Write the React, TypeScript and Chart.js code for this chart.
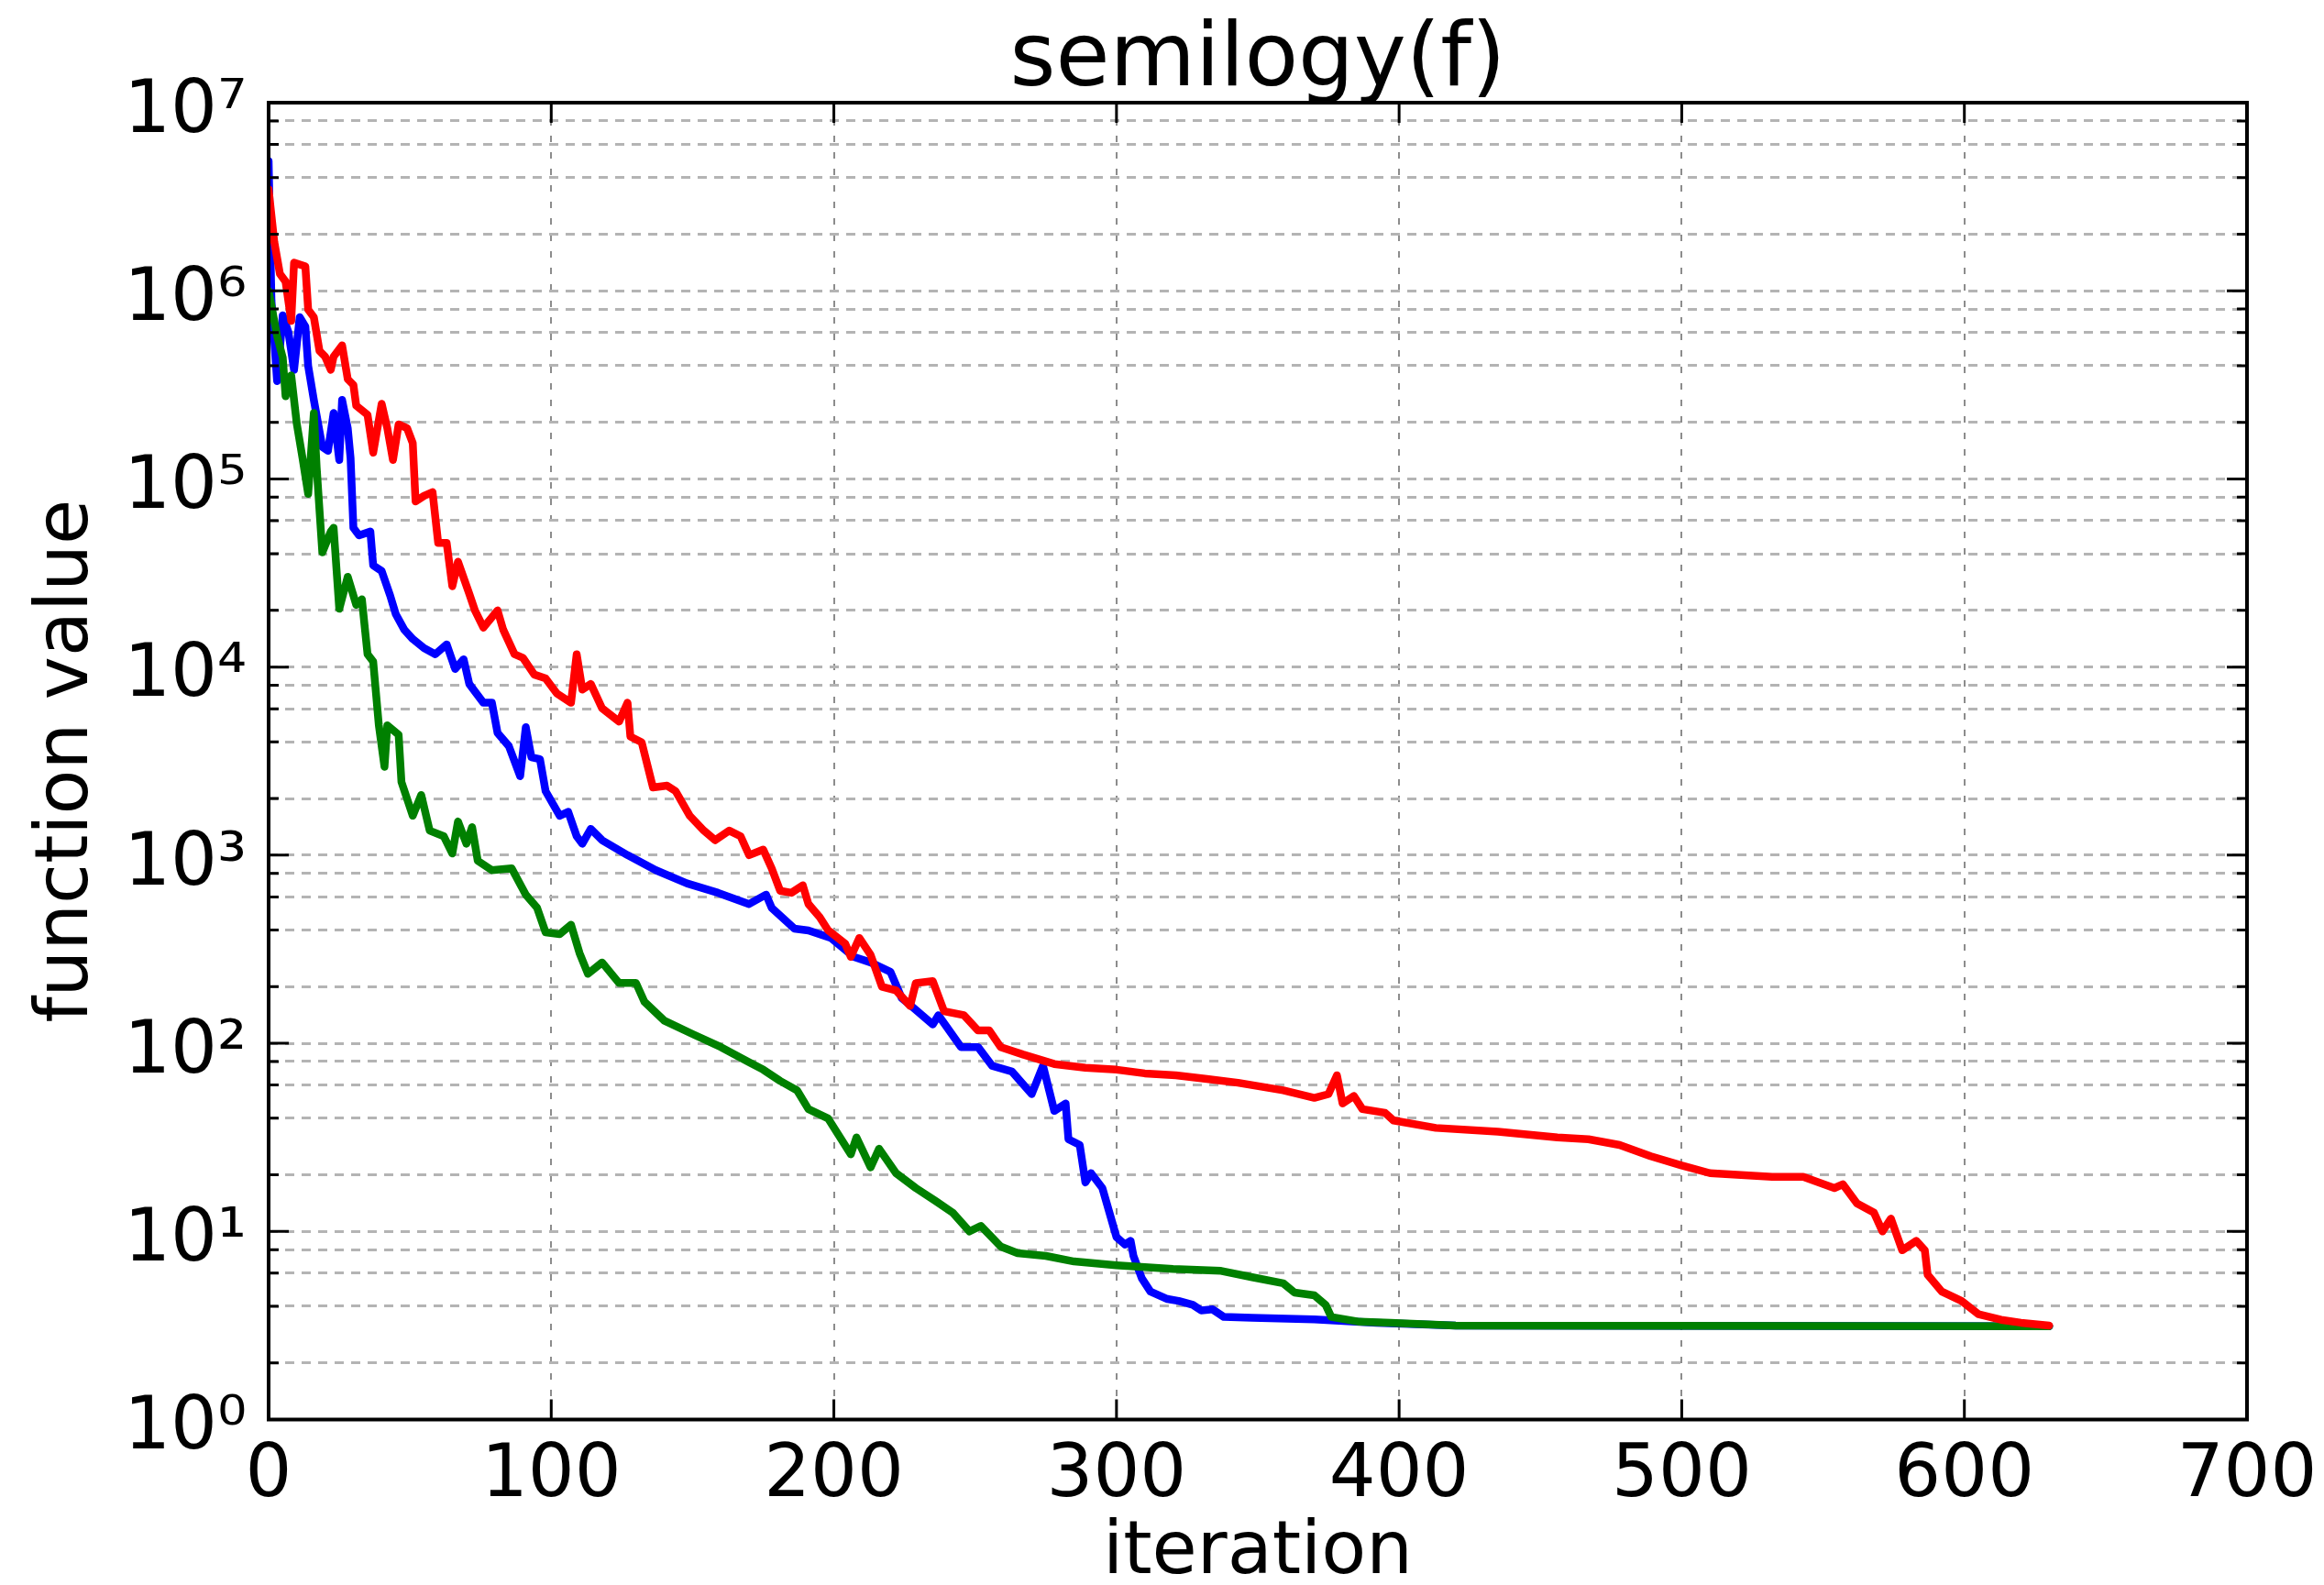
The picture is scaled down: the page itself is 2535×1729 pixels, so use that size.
import React, { useEffect, useRef } from 'react';
import { Chart, registerables } from 'chart.js';

Chart.register(...registerables);

// ---- data ----
const titleText = 'semilogy(f)';
const xLabel = 'iteration';
const yLabel = 'function value';

const xTickValues = [0, 100, 200, 300, 400, 500, 600, 700];
const yMajorValues = [1, 10, 100, 1e3, 1e4, 1e5, 1e6, 1e7];
const yMinorMultipliers = [2, 4, 6, 8];

const redIter = [0, 1, 2, 4, 6, 8, 9, 13, 14, 16, 18, 20, 22, 23, 26, 28, 30, 31, 35, 37, 40, 42, 44, 46, 49, 51, 52, 55, 58, 60, 63, 65, 67, 71, 73, 76, 81, 83, 87, 90, 94, 98, 102, 107, 109, 111, 114, 118, 124, 127, 128, 132, 136, 141, 144, 149, 154, 158, 163, 167, 170, 175, 178, 181, 185, 189, 191, 195, 198, 204, 206, 209, 213, 217, 222, 227, 229, 235, 239, 246, 251, 255, 259, 267, 278, 289, 300, 310, 321, 332, 343, 359, 370, 375, 378, 380, 384, 387, 395, 398, 413, 435, 456, 467, 478, 489, 500, 510, 532, 543, 554, 557, 562, 568, 571, 574, 578, 583, 586, 587, 592, 599, 605, 613, 620, 630];
const redVal = [3.47e6, 2.51e6, 1.82e6, 1.23e6, 1.12e6, 6.92e5, 1.41e6, 1.35e6, 7.94e5, 7.24e5, 4.79e5, 4.47e5, 3.8e5, 4.47e5, 5.13e5, 3.39e5, 3.16e5, 2.45e5, 2.19e5, 1.38e5, 2.51e5, 1.86e5, 1.26e5, 1.95e5, 1.86e5, 1.55e5, 7.59e4, 8.13e4, 8.51e4, 4.57e4, 4.57e4, 2.69e4, 3.63e4, 2.45e4, 2.0e4, 1.62e4, 2.0e4, 1.58e4, 1.17e4, 1.12e4, 9.12e3, 8.71e3, 7.24e3, 6.46e3, 1.17e4, 7.59e3, 8.13e3, 6.03e3, 5.13e3, 6.46e3, 4.27e3, 3.98e3, 2.29e3, 2.34e3, 2.19e3, 1.62e3, 1.35e3, 1.2e3, 1.35e3, 1.26e3, 1.0e3, 1.07e3, 851, 646, 631, 692, 550, 468, 398, 339, 288, 363, 295, 200, 191, 158, 209, 214, 148, 141, 117, 117, 95.5, 87.1, 77.6, 74.1, 72.4, 69.2, 67.6, 64.6, 61.7, 56.2, 51.3, 53.7, 67.6, 47.9, 52.5, 44.7, 42.7, 38.9, 35.5, 33.9, 31.6, 30.9, 28.8, 25.1, 22.4, 20.4, 19.5, 19.5, 17.0, 17.8, 14.1, 12.6, 10.0, 11.7, 7.94, 8.91, 7.94, 5.89, 4.79, 4.27, 3.63, 3.39, 3.27, 3.16];

const blueIter = [0, 1, 3, 5, 7, 9, 11, 13, 14, 16, 19, 21, 23, 25, 26, 28, 29, 30, 32, 36, 37, 40, 43, 45, 48, 51, 55, 59, 63, 66, 69, 71, 76, 79, 81, 85, 89, 91, 93, 96, 98, 103, 106, 109, 111, 114, 118, 127, 137, 148, 159, 170, 176, 178, 186, 191, 199, 207, 213, 220, 224, 228, 235, 237, 245, 251, 256, 263, 270, 274, 278, 282, 283, 287, 289, 291, 295, 300, 303, 305, 306, 309, 312, 318, 322, 327, 330, 334, 338, 348, 370, 392, 420, 630];
const blueVal = [4.9e6, 8.91e5, 3.31e5, 7.41e5, 6.03e5, 3.8e5, 7.24e5, 6.46e5, 3.98e5, 2.63e5, 1.48e5, 1.41e5, 2.24e5, 1.26e5, 2.63e5, 1.86e5, 1.29e5, 5.5e4, 5.01e4, 5.25e4, 3.47e4, 3.24e4, 2.4e4, 1.91e4, 1.58e4, 1.41e4, 1.26e4, 1.17e4, 1.32e4, 9.77e3, 1.1e4, 8.13e3, 6.46e3, 6.46e3, 4.47e3, 3.8e3, 2.63e3, 4.79e3, 3.31e3, 3.24e3, 2.19e3, 1.62e3, 1.7e3, 1.26e3, 1.15e3, 1.38e3, 1.2e3, 1.0e3, 832, 708, 631, 550, 617, 525, 407, 398, 363, 288, 269, 240, 174, 155, 126, 141, 95.5, 95.5, 75.9, 70.8, 53.7, 75.9, 43.7, 47.9, 30.9, 28.8, 18.2, 20.4, 17.0, 9.33, 8.51, 8.91, 7.41, 5.62, 4.79, 4.37, 4.27, 4.07, 3.8, 3.85, 3.51, 3.47, 3.41, 3.27, 3.16, 3.13];

const greenIter = [0, 2, 3, 5, 6, 8, 10, 12, 14, 16, 17, 19, 22, 23, 25, 28, 31, 33, 35, 37, 39, 41, 42, 46, 47, 51, 54, 57, 62, 65, 67, 70, 72, 74, 79, 86, 91, 95, 98, 103, 107, 110, 113, 118, 124, 130, 133, 140, 150, 160, 170, 175, 181, 187, 191, 198, 206, 208, 213, 216, 222, 229, 236, 242, 248, 252, 259, 265, 275, 285, 300, 320, 337, 348, 359, 363, 370, 374, 376, 386, 397, 420, 630];
const greenVal = [1.0e6, 6.92e5, 5.75e5, 4.42e5, 2.75e5, 3.55e5, 1.95e5, 1.29e5, 8.32e4, 2.24e5, 1.15e5, 4.07e4, 5.25e4, 5.5e4, 2.04e4, 3.02e4, 2.14e4, 2.29e4, 1.17e4, 1.07e4, 4.9e3, 2.95e3, 4.9e3, 4.37e3, 2.45e3, 1.62e3, 2.09e3, 1.35e3, 1.26e3, 1.02e3, 1.51e3, 1.15e3, 1.41e3, 933, 832, 851, 617, 525, 389, 380, 427, 302, 234, 269, 209, 209, 166, 132, 112, 95.5, 79.4, 72.4, 63.1, 56.2, 44.7, 39.8, 25.7, 31.6, 21.9, 27.5, 20.4, 17.0, 14.5, 12.6, 10.0, 10.7, 8.32, 7.67, 7.41, 6.92, 6.61, 6.31, 6.17, 5.71, 5.30, 4.73, 4.57, 4.07, 3.51, 3.31, 3.27, 3.16, 3.13];

const seriesColors = { red: '#ff0000', green: '#008000', blue: '#0000ff' };

// ---- helpers ----
const SUP = ['⁰', '¹', '²', '³', '⁴', '⁵', '⁶', '⁷', '⁸', '⁹'];
const toPoints = (xs: number[], ys: number[]) => xs.map((x, i) => ({ x, y: ys[i] }));
const isDecade = (v: number) => Math.abs(Math.log10(v) - Math.round(Math.log10(v))) < 1e-9;
const yTickValues: number[] = [];
yMajorValues.forEach((m, i) => {
  yTickValues.push(m);
  if (i < yMajorValues.length - 1) yMinorMultipliers.forEach((k) => yTickValues.push(m * k));
});
yTickValues.sort((a, b) => a - b);

const FONT = 'DejaVu Sans';

const frameAndTicks = {
  id: 'frameAndTicks',
  afterDatasetsDraw(chart: any) {
    const { ctx, chartArea: a, scales } = chart;
    const xs = scales.x;
    const ys = scales.y;
    ctx.save();
    ctx.strokeStyle = '#000';
    ctx.lineWidth = 3;
    ctx.setLineDash([]);
    ctx.beginPath();
    xTickValues.forEach((v) => {
      const px = xs.getPixelForValue(v);
      ctx.moveTo(px, a.bottom);
      ctx.lineTo(px, a.bottom - 22);
      ctx.moveTo(px, a.top);
      ctx.lineTo(px, a.top + 22);
    });
    yTickValues.forEach((v) => {
      const py = ys.getPixelForValue(v);
      const len = isDecade(v) ? 22 : 11;
      ctx.moveTo(a.left, py);
      ctx.lineTo(a.left + len, py);
      ctx.moveTo(a.right, py);
      ctx.lineTo(a.right - len, py);
    });
    ctx.stroke();
    ctx.lineWidth = 4;
    ctx.strokeRect(a.left, a.top, a.right - a.left, a.bottom - a.top);
    ctx.restore();
  },
};

export default function App() {
  const canvasRef = useRef<HTMLCanvasElement | null>(null);

  useEffect(() => {
    document.body.style.margin = '0';
    const canvas = canvasRef.current;
    if (!canvas) return;
    Chart.defaults.font.family = FONT;
    Chart.defaults.color = '#000';

    const lineDs = (label: string, xs: number[], ys: number[], color: string) => ({
      label,
      data: toPoints(xs, ys),
      borderColor: color,
      backgroundColor: color,
      borderWidth: 8.5,
      pointRadius: 0,
      tension: 0,
      borderJoinStyle: 'round' as const,
      borderCapStyle: 'round' as const,
      fill: false,
    });

    const chart = new Chart(canvas, {
      type: 'line',
      data: {
        datasets: [
          lineDs('red', redIter, redVal, seriesColors.red),
          lineDs('green', greenIter, greenVal, seriesColors.green),
          lineDs('blue', blueIter, blueVal, seriesColors.blue),
        ],
      },
      options: {
        responsive: false,
        animation: false,
        layout: { padding: { left: 0, right: 84, top: 0, bottom: 0 } },
        plugins: {
          legend: { display: false },
          tooltip: { enabled: false },
          title: {
            display: true,
            text: titleText,
            fullSize: false,
            color: '#000',
            font: { family: FONT, size: 96, weight: 'normal', lineHeight: 0.9 },
            padding: { top: 25, bottom: 0.6 },
          },
        },
        scales: {
          x: {
            type: 'linear',
            min: 0,
            max: 700,
            afterFit: (s: any) => {
              s.height = 180.5;
              s.paddingLeft = 0;
              s.paddingRight = 0;
            },
            afterBuildTicks: (s: any) => { s.ticks = xTickValues.map((v) => ({ value: v })); },
            ticks: {
              font: { family: FONT, size: 80 },
              color: '#000',
              padding: 15,
              autoSkip: false,
              maxRotation: 0,
              callback: (v: any) => String(v),
            },
            grid: { drawTicks: false, color: '#8c8c8c', lineWidth: 2 },
            border: { display: false, dash: [7, 11] },
            title: {
              display: true,
              text: xLabel,
              color: '#000',
              font: { family: FONT, size: 80, lineHeight: 0.85 },
              padding: { top: 0, bottom: 0 },
            },
          },
          y: {
            type: 'logarithmic',
            min: 1,
            max: 1e7,
            afterFit: (s: any) => {
              s.width = 293;
              s.paddingTop = 0;
              s.paddingBottom = 0;
            },
            afterBuildTicks: (s: any) => { s.ticks = yTickValues.map((v) => ({ value: v })); },
            ticks: {
              font: { family: FONT, size: 80 },
              color: '#000',
              padding: 24,
              labelOffset: 11,
              autoSkip: false,
              callback: (v: any) => {
                const n = Number(v);
                if (!isDecade(n)) return '';
                const e = Math.round(Math.log10(n));
                return '10' + String(e).split('').map((d) => SUP[Number(d)]).join('');
              },
            },
            grid: { drawTicks: false, color: '#b4b4b4', lineWidth: 3 },
            border: { display: false, dash: [10, 8] },
            title: {
              display: true,
              text: yLabel,
              color: '#000',
              font: { family: FONT, size: 80, lineHeight: 1 },
              padding: { top: 34, bottom: 0 },
            },
          },
        },
      },
      plugins: [frameAndTicks],
    } as any);

    return () => chart.destroy();
  }, []);

  return (
    <div style={{ width: 2535, height: 1729 }}>
      <canvas ref={canvasRef} width={2535} height={1729} style={{ display: 'block' }} />
    </div>
  );
}
